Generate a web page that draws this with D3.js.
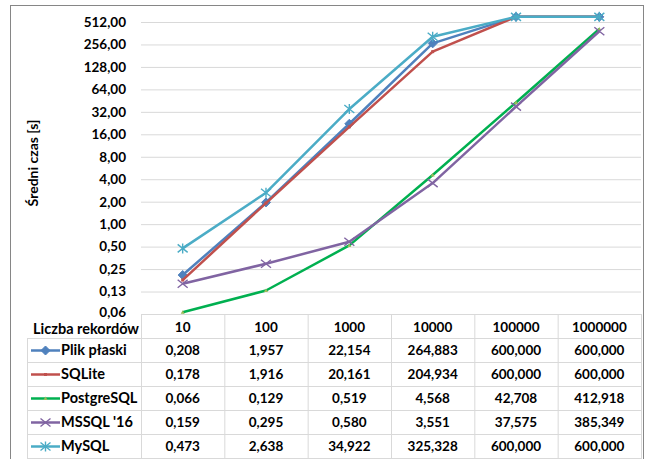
<!DOCTYPE html>
<html><head><meta charset="utf-8">
<script src="https://cdn.jsdelivr.net/npm/d3@7"></script>
<style>
html,body{margin:0;padding:0;background:#fff;}
svg{display:block;font-family:Lato,"Open Sans",sans-serif;font-weight:bold;}
</style></head>
<body>
<svg id="c" width="651" height="459"></svg>
<script>
const categories = ["10","100","1000","10000","100000","1000000"];
const seriesNames = ["Plik płaski","SQLite","PostgreSQL","MSSQL '16","MySQL"];
const plikPlaski = [0.208, 1.957, 22.154, 264.883, 600.000, 600.000];
const sqlite     = [0.178, 1.916, 20.161, 204.934, 600.000, 600.000];
const postgres   = [0.066, 0.129, 0.519, 4.568, 42.708, 412.918];
const mssql      = [0.159, 0.295, 0.580, 3.551, 37.575, 385.349];
const mysql      = [0.473, 2.638, 34.922, 325.328, 600.000, 600.000];
const tickValues = [0.0625,0.125,0.25,0.5,1,2,4,8,16,32,64,128,256,512];
const tickLabels = ["0,06","0,13","0,25","0,50","1,00","2,00","4,00","8,00","16,00","32,00","64,00","128,00","256,00","512,00"];
const colors  = ["#4F81BD","#C0504D","#00B050","#8064A2","#4BACC6"];
const markers = ["diamond","square","triangle","x","star"];
const allSeries = [plikPlaski, sqlite, postgres, mssql, mysql];

const svg = d3.select("#c");
const L = 141, R = 641, T = 22, B = 314;
const x = d3.scaleBand().domain(categories).range([L, R]);
const y = d3.scaleLog().base(2).domain([0.0625, 512]).range([B, T]);

svg.append("rect").attr("x",10.5).attr("y",5.5).attr("width",633).attr("height",460)
  .attr("fill","#fff").attr("stroke","#868686").attr("stroke-width",1);

const grid = svg.append("g").attr("transform",`translate(${L},0)`)
  .call(d3.axisLeft(y).tickValues(tickValues.slice(1)).tickSize(-(R-L)).tickFormat(""));
grid.select(".domain").remove();
grid.selectAll("line").attr("stroke","#D9D9D9").attr("stroke-width",1);

const yAx = svg.append("g").attr("transform",`translate(126,0)`)
  .call(d3.axisLeft(y).tickValues(tickValues).tickSize(0).tickPadding(0)
    .tickFormat((d,i)=>tickLabels[i]));
yAx.select(".domain").remove();
yAx.selectAll("text").attr("font-size",13.5).attr("font-weight","bold")
  .attr("font-family","Lato,'Open Sans',sans-serif").attr("fill","#000");
yAx.selectAll(".tick").filter((d,i)=>i===0).select("text").attr("dy","0.2em");

svg.append("text").attr("transform","translate(38,163) rotate(-90)")
  .attr("text-anchor","middle").attr("font-size",14).attr("fill","#000")
  .text("Średni czas [s]");

const rowH = 24, headTop = B, headBot = B + 24;
const tbl = svg.append("g");
const gridCol = "#D9D9D9";
categories.forEach((c,i)=>{
  tbl.append("line").attr("x1",x(c)+0.5).attr("x2",x(c)+0.5).attr("y1",headTop).attr("y2",459)
    .attr("stroke",gridCol);
});
tbl.append("line").attr("x1",R+0.5).attr("x2",R+0.5).attr("y1",headTop).attr("y2",459).attr("stroke",gridCol);
tbl.append("line").attr("x1",27.5).attr("x2",27.5).attr("y1",headBot).attr("y2",459).attr("stroke",gridCol);
for(let r=0;r<=5;r++){
  const yy = headBot + r*rowH + 0.5;
  tbl.append("line").attr("x1",27).attr("x2",R).attr("y1",yy).attr("y2",yy).attr("stroke",gridCol);
}
svg.append("line").attr("x1",L).attr("x2",R).attr("y1",B+0.5).attr("y2",B+0.5).attr("stroke","#D9D9D9");

tbl.append("text").attr("x",139).attr("y",headTop+15).attr("dy","0.35em").attr("text-anchor","end")
  .attr("font-size",14.5).text("Liczba rekordów");
tbl.selectAll(".hd").data(categories).enter().append("text")
  .attr("x",d=>x(d)+x.bandwidth()/2).attr("y",headTop+13.5).attr("dy","0.35em")
  .attr("text-anchor","middle").attr("font-size",13.5).text(d=>d);

const fmt = v => d3.format(".3f")(v).replace(".",",");
allSeries.forEach((s,si)=>{
  const cy = headBot + si*rowH + rowH/2;
  tbl.selectAll(".v"+si).data(s).enter().append("text")
    .attr("x",(d,i)=>x(categories[i])+x.bandwidth()/2).attr("y",cy).attr("dy","0.35em")
    .attr("text-anchor","middle").attr("font-size",13.5).text(d=>fmt(d));
  tbl.append("text").attr("x",61).attr("y",cy).attr("dy","0.35em").attr("font-size",14.5).text(seriesNames[si]);
  tbl.append("line").attr("x1",31).attr("x2",60).attr("y1",cy+0.5).attr("y2",cy+0.5)
    .attr("stroke",colors[si]).attr("stroke-width",2.5);
  drawMarker(tbl, markers[si], 45.5, cy+0.5, colors[si], si);
});

function drawMarker(g, type, cx, cy, col, si){
  if(type==="diamond"){
    g.append("path").attr("d",`M${cx},${cy-4.5}L${cx+4.5},${cy}L${cx},${cy+4.5}L${cx-4.5},${cy}Z`).attr("fill",col).attr("stroke",col);
  } else if(type==="square"){
    g.append("rect").attr("x",cx-1.5).attr("y",cy-1.5).attr("width",3).attr("height",3).attr("fill",col);
  } else if(type==="triangle"){
    g.append("path").attr("d",`M${cx},${cy-2}L${cx+2},${cy+1.5}L${cx-2},${cy+1.5}Z`).attr("fill","#9BBB59");
  } else if(type==="x"){
    g.append("path").attr("d",`M${cx-5},${cy-4}L${cx+5},${cy+4}M${cx-5},${cy+4}L${cx+5},${cy-4}`)
      .attr("stroke",col).attr("stroke-width",1.4).attr("fill","none");
  } else if(type==="star"){
    g.append("path").attr("d",`M${cx-5},${cy-4}L${cx+5},${cy+4}M${cx-5},${cy+4}L${cx+5},${cy-4}M${cx},${cy-5}L${cx},${cy+5}`)
      .attr("stroke",col).attr("stroke-width",1.4).attr("fill","none");
  }
}

const line = d3.line().x((d,i)=>x(categories[i])+x.bandwidth()/2).y(d=>y(d));
allSeries.forEach((s,si)=>{
  const g = svg.append("g");
  g.append("path").datum(s).attr("d",line).attr("fill","none")
    .attr("stroke",colors[si]).attr("stroke-width",2.5).attr("stroke-linejoin","round");
  s.forEach((v,i)=>drawMarker(g, markers[si], x(categories[i])+x.bandwidth()/2, y(v), colors[si], si));
});
</script>
</body></html>
